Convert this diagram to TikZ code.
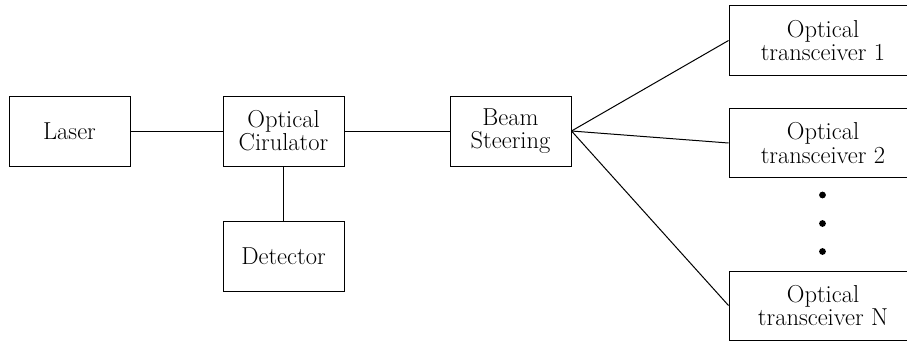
\documentclass[tikz,border=0pt]{standalone}
\begin{document}
\begin{tikzpicture}[x=1pt,y=1pt,
  blk/.style={draw, line width=1pt, minimum width=121pt, minimum height=70pt,
    inner sep=0pt, align=center, font=\fontsize{24.5}{23.2}\selectfont},
  wideblk/.style={blk, minimum width=188pt, minimum height=69pt},
  link/.style={line width=1pt}]
\useasboundingbox (0,0) rectangle (907,341);
\clip (0,0) rectangle (907,341);
% main chain
\node[blk] (laser) at (69.5,210) {Laser};
\node[blk] (circ) at (283.5,210) {Optical\\Cirulator};
\node[blk] (det) at (283.5,85) {Detector};
\node[blk] (beam) at (510.5,210) {Beam\\Steering};
% transceivers
\node[wideblk] (t1) at (823,300.5) {Optical\\transceiver 1};
\node[wideblk] (t2) at (823,198) {Optical\\transceiver 2};
\node[wideblk] (tn) at (823,35.5) {Optical\\transceiver N};
% ellipsis dots
\foreach \yy in {146,117.5,89.5} \fill (822.5,\yy) circle (3.4pt);
% connectors
\draw[link] (laser) -- (circ);
\draw[link] (circ) -- (beam);
\draw[link] (circ) -- (det);
\draw[link] (beam.east) -- (t1.west);
\draw[link] (beam.east) -- (t2.west);
\draw[link] (beam.east) -- (tn.west);
\end{tikzpicture}
\end{document}
